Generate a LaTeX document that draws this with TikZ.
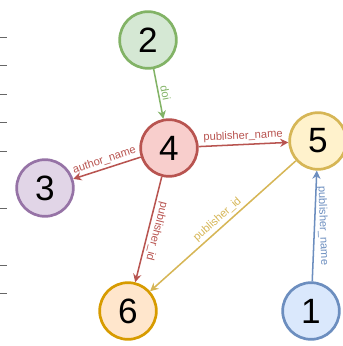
\documentclass[tikz,border=0pt]{standalone}
\usepackage{fontspec}
\setmainfont{Liberation Sans}
\usetikzlibrary{arrows.meta}

\definecolor{grnline}{HTML}{82B366}
\definecolor{grnfill}{HTML}{D5E8D4}
\definecolor{redline}{HTML}{B85450}
\definecolor{redfill}{HTML}{F8CECC}
\definecolor{ylwline}{HTML}{D6B656}
\definecolor{ylwfill}{HTML}{FFF2CC}
\definecolor{prpline}{HTML}{9673A6}
\definecolor{prpfill}{HTML}{E1D5E7}
\definecolor{orgline}{HTML}{D79B00}
\definecolor{orgfill}{HTML}{FFE6CC}
\definecolor{blueline}{HTML}{6C8EBF}
\definecolor{bluefill}{HTML}{DAE8FC}

\begin{document}
\begin{tikzpicture}[x=0.03cm,y=-0.03cm,
	table/.style={circle,line width=2.3pt,minimum size=1.7cm,inner sep=0pt,font=\fontsize{30}{32}\selectfont},
	link/.style={-{Stealth[length=7pt,width=7pt]},line width=1.3pt},
	key/.style={font=\fontsize{9.5}{11}\selectfont,sloped,inner sep=2pt}]
	\useasboundingbox (0,0) rectangle (342,346);

	% ruler ticks on the left margin
	\foreach \y in {37,65.5,94,122.5,151,208,265,293.5}
		\draw[black!60,line width=0.7pt] (0,\y) -- (7,\y);

	\node[table,draw=grnline,fill=grnfill](t2) at (148,40){2};
	\node[table,draw=redline,fill=redfill](t4) at (169,148){4};
	\node[table,draw=ylwline,fill=ylwfill](t5) at (318,141){5};
	\node[table,draw=prpline,fill=prpfill](t3) at (45,188){3};
	\node[table,draw=orgline,fill=orgfill](t6) at (128,311){6};
	\node[table,draw=blueline,fill=bluefill](t1) at (311,311){1};

	\draw[link,grnline] (t2) -- (t4) node[midway,key,above,allow upside down,text=grnline]{doi};
	\draw[link,redline] (t4) -- (t5) node[midway,key,above,text=redline]{publisher\_name};
	\draw[link,redline] (t4) -- (t3) node[midway,key,above,text=redline]{author\_name};
	\draw[link,redline] (t4) -- (t6) node[midway,key,above,allow upside down,text=redline]{publisher\_id};
	\draw[link,ylwline] (t5) -- (t6) node[midway,key,above,text=ylwline]{publisher\_id};
	\draw[link,blueline] (t1) -- (t5) node[midway,font=\fontsize{9.5}{11}\selectfont,anchor=south,rotate=-88,inner sep=2pt,text=blueline]{publisher\_name};
\end{tikzpicture}
\end{document}
